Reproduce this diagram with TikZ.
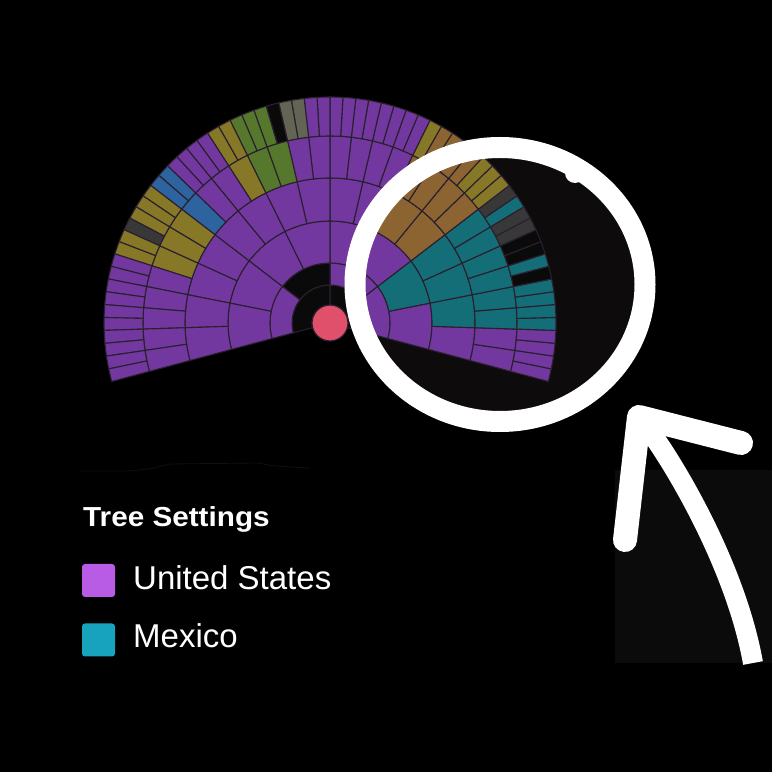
\documentclass[tikz,border=0pt]{standalone}
\usepackage{fontspec}
\usepackage{graphicx}
\setmainfont{Liberation Sans}
\usetikzlibrary{calc}
\definecolor{fP}{HTML}{7338A0}
\definecolor{fT}{HTML}{146E78}
\definecolor{fB}{HTML}{8C6432}
\definecolor{fO}{HTML}{877828}
\definecolor{fG}{HTML}{55782D}
\definecolor{fU}{HTML}{2D64A0}
\definecolor{fD}{HTML}{383838}
\definecolor{fQ}{HTML}{646455}
\definecolor{fK}{HTML}{0A0A0A}
\definecolor{fanline}{HTML}{2A1F2E}
\definecolor{centerred}{HTML}{E0506A}
\definecolor{legP}{HTML}{B85CE6}
\definecolor{legT}{HTML}{17A2BD}
\definecolor{dimbg}{HTML}{0B0B0B}
\definecolor{innerbg}{HTML}{0E0B0C}
\definecolor{faintline}{HTML}{101010}
\newcommand{\fanseg}[5]{%
  \filldraw[fill=#5, draw=fanline, line width=1.1pt]
    ($(C)+(#3:#1)$) arc[start angle=#3, end angle=#4, radius=#1]
    -- ($(C)+(#4:#2)$) arc[start angle=#4, end angle=#3, radius=#2] -- cycle;}
\newcommand{\fanring}[4]{%
  \foreach \c [count=\i from 0] in {#4} {%
    \pgfmathsetmacro\aa{-15+\i*#3}%
    \pgfmathsetmacro\ab{-15+(\i+1)*#3}%
    \fanseg{#1}{#2}{\aa}{\ab}{\c}}}
\tikzset{
  annot/.style={draw=white, line cap=round, line join=round},
  legtext/.style={anchor=base west, inner sep=0pt, text=white},
  legbox/.style={rounded corners=3pt, minimum size=33pt, inner sep=0pt}
}
\begin{document}
\begin{tikzpicture}[x=1pt,y=1pt]
\useasboundingbox (0,0) rectangle (772,772);
\fill[black] (0,0) rectangle (772,772);
% photo artefacts
\fill[dimbg] (615,109) rectangle (772,302);
\draw[color=faintline, line width=0.8pt] (80,301) -- (127,301) -- (150,303) -- (170,308) -- (258,309) -- (275,306) -- (310,304);
\fill[innerbg] (500,487.5) ellipse [x radius=135, y radius=127];
% fan chart
\coordinate (C) at (330,449);
\fanring{18}{38}{105}{fK,fK}
\fanring{38}{60}{52.5}{fP,fP,fK,fP}
\fanring{60}{102}{26.25}{fP,fT,fP,fP,fP,fP,fP,fP}
\fanring{102}{145}{13.125}{fP,fT,fT,fT,fB,fB,fP,fP,fP,fP,fP,fP,fP,fP,fP,fP}
\fanring{145}{187}{6.5625}{fP,fP,fT,fT,fT,fT,fT,fT,fB,fB,fB,fB,fP,fP,fP,fP,fP,fP,fG,fG,fO,fP,fP,fU,fO,fO,fO,fP,fP,fP,fP,fP}
\fanring{187}{226}{3.28125}{fP,fP,fP,fP,fT,fT,fT,fT,fK,fT,fK,fK,fD,fD,fT,fD,fO,fO,fO,fB,fB,fB,fB,fO,fP,fP,fP,fP,fP,fP,fP,fP,fP,fP,fQ,fQ,fK,fG,fG,fG,fO,fO,fP,fP,fP,fP,fU,fU,fO,fO,fO,fD,fO,fO,fP,fP,fP,fP,fP,fP,fP,fP,fP,fP}
\node[circle, fill=centerred, draw=fanline, line width=1.2pt, minimum size=36pt, inner sep=0pt] (center) at (C) {};
% hand-drawn annotation: circle and arrow
\draw[annot, line width=21pt] (500,487.5) ellipse [x radius=145, y radius=137];
\fill[white] (575,599) circle [radius=10];
\coordinate (shaftstart) at (753,109);
\coordinate (tip) at (639,355);
\coordinate (armleft) at (625,232);
\coordinate (armright) at (741,329);
\draw[white, line width=20pt] (shaftstart) .. controls (735,210) and (668,320) .. (tip);
\draw[annot, line width=24pt] (armleft) -- (tip) -- (armright);
% legend
\node[legtext, font=\fontsize{27.5}{30}\selectfont\bfseries] (title) at (83,245) {\scalebox{1.08}[1]{Tree Settings}};
\node[legbox, fill=legP] (boxus) at (98.5,191.5) {};
\node[legtext, font=\fontsize{33}{36}\selectfont] (labus) at (133,182) {United States};
\node[legbox, fill=legT] (boxmx) at (98.5,132) {};
\node[legtext, font=\fontsize{33}{36}\selectfont] (labmx) at (133,124) {Mexico};
\end{tikzpicture}
\end{document}
